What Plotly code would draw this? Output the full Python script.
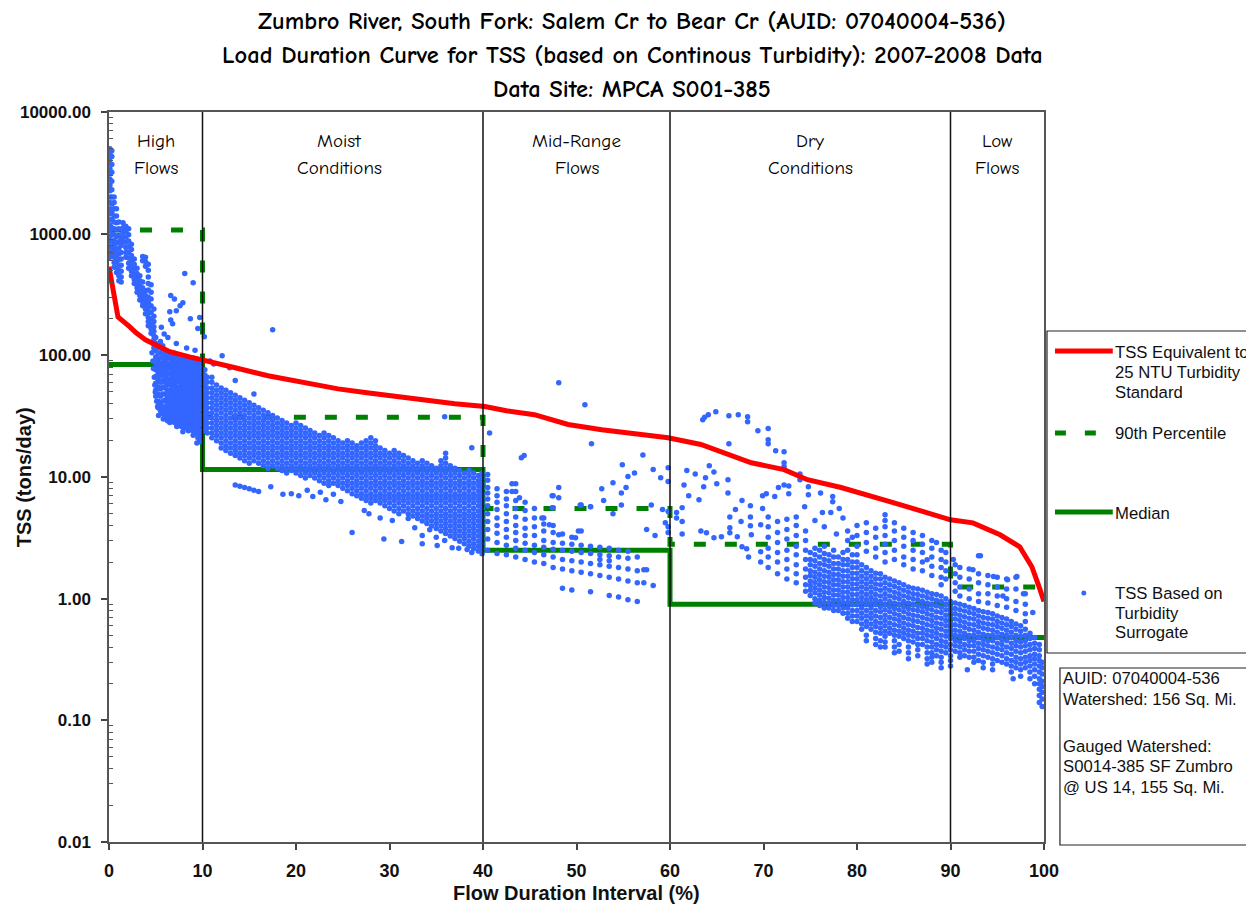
import plotly.graph_objects as go

# ------------------------------------------------------------------ data
# TSS equivalent to the 25 NTU turbidity standard (red curve)
red_flow = [0, 0.43, 0.96, 2.2, 2.9, 3.9, 5.0, 6.5, 8.6, 10, 13.5, 17, 20.7, 24.5, 27.8,
            31.3, 34, 37, 40.2, 42.5, 45.5, 49.1, 52.7, 56.9, 59.8, 63.3, 66, 68.7, 72.2,
            74.7, 78.3, 81, 83.6, 87.1, 90, 92.4, 95.3, 97.4, 98.7, 99.4, 100]
red_tss = [535, 366, 207, 172, 153, 134, 122, 107, 97, 92, 79, 68, 60, 53, 49,
           45.5, 42, 40, 38, 35, 32.5, 27, 24.5, 22.3, 21, 18.5, 15.5, 13.1, 11.5,
           9.5, 8.2, 7.2, 6.25, 5.2, 4.45, 4.2, 3.35, 2.67, 1.83, 1.3, 0.95]

# step curves by flow zone
step_flow = [0, 10, 10, 40, 40, 60, 60, 90, 90, 100]
p90_tss = [1070, 1070, 31, 31, 5.5, 5.5, 2.8, 2.8, 1.25, 1.25]
median_tss = [84, 84, 11.5, 11.5, 2.5, 2.5, 0.9, 0.9, 0.48, 0.48]

# flow zones
zone_bounds = [10, 40, 60, 90]
zone_centers = [5, 24.6, 50, 75, 95]
zone_line1 = ["High", "Moist", "Mid-Range", "Dry", "Low"]
zone_line2 = ["Flows", "Conditions", "Flows", "Conditions", "Flows"]

# y-axis ticks
y_tickvals = [0.01, 0.1, 1, 10, 100, 1000, 10000]
y_ticktext = ["0.01", "0.10", "1.00", "10.00", "100.00", "1000.00", "10000.00"]
y_minor = [m * d for d in [0.01, 0.1, 1, 10, 100, 1000] for m in range(2, 10)]
x_tickvals = [0, 10, 20, 30, 40, 50, 60, 70, 80, 90, 100]

# TSS based on turbidity surrogate: columns (flow %, [tons/day ...])
high_flow_cols = [
    (0.1, [5000, 4600, 4200, 3800, 3400, 3100, 2800, 2500, 2250, 2000, 1800, 1600, 1450, 1300, 1180, 1060, 950, 860, 780, 700, 640]),
    (0.3, [4800, 4300, 3700, 3200, 2700, 2300, 2000, 1750, 1500, 1300, 1120, 980, 860, 760, 680]),
    (0.55, [2000, 1800, 1600, 1400, 1250, 1100, 980, 880, 790, 710, 640, 580, 530]),
    (0.8, [1600, 1400, 1230, 1080, 950, 840, 740, 660, 590, 530, 480]),
    (1.05, [1250, 1100, 970, 860, 760, 680, 610, 550, 500, 450, 410]),
    (1.3, [900, 800, 700, 620, 550, 490, 440, 400]),
    (1.5, [1230, 1120, 1020, 930, 850]),
    (1.8, [1150, 1040, 940, 850, 770, 700, 640]),
    (2.1, [1100, 980, 870, 780, 700, 630, 570, 520]),
    (2.4, [820, 740, 660, 600, 540, 490, 450]),
    (2.7, [620, 560, 510, 460, 420, 390]),
    (3.0, [520, 470, 430, 390, 360, 330]),
    (3.3, [450, 410, 370, 340, 310, 285]),
    (3.6, [650, 600, 400, 360, 330, 300, 275, 255]),
    (3.9, [640, 590, 540, 340, 310, 285, 260, 240, 220]),
    (4.2, [560, 500, 440, 390, 345, 300, 270, 245, 225, 205, 190, 175]),
    (4.5, [380, 330, 290, 255, 225, 200, 180, 165, 152]),
    (4.8, [240, 210, 190, 172, 158, 145, 134, 124, 115]),
    (5.0, [140, 125, 110, 97, 86, 76, 67, 59, 52, 46]),
    (5.25, [118, 104, 92, 81, 72, 63, 55, 48, 42, 37]),
    (5.5, [130, 115, 105, 95, 85, 76, 68, 60, 53, 46, 40, 35]),
    (5.75, [120, 108, 97, 87, 78, 70, 62, 55, 48, 42, 37, 33]),
    (6.0, [110, 100, 91, 82, 74, 67, 60, 54, 48, 43, 38, 34, 31]),
    (6.25, [105, 95, 86, 78, 70, 63, 57, 51, 45, 41, 36, 32, 29]),
    (6.5, [106, 96, 87, 79, 71, 64, 58, 52, 47, 42, 38, 34, 31, 28]),
    (6.75, [101, 91, 83, 75, 68, 61, 55, 49, 44, 40, 36, 32, 29]),
    (7.0, [104, 94, 85, 77, 70, 63, 57, 51, 46, 41, 37, 34, 31, 28]),
    (7.25, [99, 89, 80, 73, 66, 60, 54, 48, 43, 39, 35, 32, 29, 26]),
    (7.5, [100, 91, 82, 74, 67, 61, 55, 50, 45, 41, 37, 33, 30, 27]),
    (7.75, [95, 86, 78, 70, 63, 57, 52, 47, 42, 38, 35, 31, 28, 26]),
    (8.0, [98, 89, 81, 73, 66, 60, 54, 49, 44, 40, 36, 33, 30, 27, 25]),
    (8.25, [93, 84, 76, 69, 62, 56, 51, 46, 42, 38, 34, 31, 28, 26]),
    (8.5, [96, 87, 79, 72, 65, 59, 53, 48, 44, 40, 36, 32, 29, 26, 24]),
    (8.75, [92, 83, 75, 68, 61, 55, 50, 45, 41, 37, 34, 30, 27, 25]),
    (9.0, [95, 86, 78, 71, 64, 58, 52, 47, 43, 39, 35, 32, 29, 26, 24, 22]),
    (9.25, [90, 81, 74, 67, 60, 54, 49, 45, 40, 36, 33, 30, 27, 25, 23]),
    (9.5, [93, 84, 76, 69, 63, 57, 51, 46, 42, 38, 34, 31, 28, 25, 23, 21]),
    (9.75, [88, 80, 72, 65, 59, 53, 48, 44, 40, 36, 32, 29, 27, 24, 22, 20]),
]
high_flow_pts = [(8.1, 470), (9.0, 395), (6.6, 310), (7.0, 290), (7.9, 270), (7.6, 255), (7.2, 232),
                 (6.6, 195), (6.8, 182), (8.7, 200), (9.7, 205), (9.5, 166), (6.5, 228), (5.6, 170),
                 (5.9, 150), (6.3, 140), (7.2, 125), (8.3, 115), (9.2, 110), (5.3, 32), (5.8, 30),
                 (7.9, 23.5), (9.7, 19.5), (9.4, 19.0), (4.6, 105), (4.7, 90), (4.75, 78), (4.85, 66),
                 (4.9, 57), (4.95, 50), (5.1, 42), (5.2, 38)]

moist_cols = [
    (10.25, [24.1, 26.5, 29.2, 32.1, 35.3, 38.8, 42.7, 47, 51.7, 57, 63, 69, 76]),
    (10.5, [23.0, 25.3, 27.8, 30.6, 33.7, 37, 40.7, 44.8, 49.3, 54, 60, 66]),
    (11.0, [21.0, 23.0, 25.3, 27.8, 30.6, 33.7, 37, 40.7, 44.8, 49.3, 54, 60, 66]),
    (11.5, [19.9, 21.9, 24.1, 26.5, 29.2, 32.1, 35.3, 38.8, 42.7, 47, 51.7, 57]),
    (12.0, [17.3, 19.0, 21.0, 23.0, 25.3, 27.8, 30.6, 33.7, 37, 40.7, 44.8, 49.3, 54]),
    (12.5, [16.5, 18.1, 19.9, 21.9, 24.1, 26.5, 29.2, 32.1, 35.3, 38.8, 42.7, 47, 51.7]),
    (13.0, [15.7, 17.3, 19.0, 21.0, 23.0, 25.3, 27.8, 30.6, 33.7, 37, 40.7, 44.8, 49.3]),
    (13.5, [15.0, 16.5, 18.1, 19.9, 21.9, 24.1, 26.5, 29.2, 32.1, 35.3, 38.8, 42.7, 47]),
    (14.0, [14.3, 15.7, 17.3, 19.0, 21.0, 23.0, 25.3, 27.8, 30.6, 33.7, 37, 40.7, 44.8]),
    (14.5, [13.6, 15.0, 16.5, 18.1, 19.9, 21.9, 24.1, 26.5, 29.2, 32.1, 35.3, 38.8, 42.7]),
    (15.0, [13.0, 14.3, 15.7, 17.3, 19.0, 21.0, 23.0, 25.3, 27.8, 30.6, 33.7, 37, 40.7]),
    (15.5, [13.6, 15.0, 16.5, 18.1, 19.9, 21.9, 24.1, 26.5, 29.2, 32.1, 35.3, 38.8]),
    (16.0, [13.0, 14.3, 15.7, 17.3, 19.0, 21.0, 23.0, 25.3, 27.8, 30.6, 33.7, 37]),
    (16.5, [12.4, 13.6, 15.0, 16.5, 18.1, 19.9, 21.9, 24.1, 26.5, 29.2, 32.1, 35.3]),
    (17.0, [11.8, 13.0, 14.3, 15.7, 17.3, 19.0, 21.0, 23.0, 25.3, 27.8, 30.6, 33.7]),
    (17.5, [12.4, 13.6, 15.0, 16.5, 18.1, 19.9, 21.9, 24.1, 26.5, 29.2, 32.1]),
    (18.0, [11.8, 13.0, 14.3, 15.7, 17.3, 19.0, 21.0, 23.0, 25.3, 27.8, 30.6]),
    (18.5, [11.3, 12.4, 13.6, 15.0, 16.5, 18.1, 19.9, 21.9, 24.1, 26.5, 29.2]),
    (19.0, [10.8, 11.8, 13.0, 14.3, 15.7, 17.3, 19.0, 21.0, 23.0, 25.3, 27.8]),
    (19.5, [11.3, 12.4, 13.6, 15.0, 16.5, 18.1, 19.9, 21.9, 24.1, 26.5]),
    (20.0, [10.8, 11.8, 13.0, 14.3, 15.7, 17.3, 19.0, 21.0, 23.0, 25.3, 27.8]),
    (20.5, [10.3, 11.3, 12.4, 13.6, 15.0, 16.5, 18.1, 19.9, 21.9, 24.1, 26.5]),
    (21.0, [9.8, 10.8, 11.8, 13.0, 14.3, 15.7, 17.3, 19.0, 21.0, 23.0, 25.3]),
    (21.5, [10.3, 11.3, 12.4, 13.6, 15.0, 16.5, 18.1, 19.9, 21.9, 24.1]),
    (22.0, [9.8, 10.8, 11.8, 13.0, 14.3, 15.7, 17.3, 19.0, 21.0, 23.0]),
    (22.5, [9.3, 10.3, 11.3, 12.4, 13.6, 15.0, 16.5, 18.1, 19.9, 21.9]),
    (23.0, [8.9, 9.8, 10.8, 11.8, 13.0, 14.3, 15.7, 17.3, 19.0, 21.0, 23.0]),
    (23.5, [8.5, 9.3, 10.3, 11.3, 12.4, 13.6, 15.0, 16.5, 18.1, 19.9, 21.9]),
    (24.0, [8.9, 9.8, 10.8, 11.8, 13.0, 14.3, 15.7, 17.3, 19.0, 21.0]),
    (24.5, [8.5, 9.3, 10.3, 11.3, 12.4, 13.6, 15.0, 16.5, 18.1, 19.9]),
    (25.0, [8.1, 8.9, 9.8, 10.8, 11.8, 13.0, 14.3, 15.7, 17.3, 19.0]),
    (25.5, [7.7, 8.5, 9.3, 10.3, 11.3, 12.4, 13.6, 15.0, 16.5, 18.1, 19.9]),
    (26.0, [7.3, 8.1, 8.9, 9.8, 10.8, 11.8, 13.0, 14.3, 15.7, 17.3, 19.0]),
    (26.5, [7.0, 7.7, 8.5, 9.3, 10.3, 11.3, 12.4, 13.6, 15.0, 16.5, 18.1]),
    (27.0, [6.7, 7.3, 8.1, 8.9, 9.8, 10.8, 11.8, 13.0, 14.3, 15.7, 17.3, 19.0]),
    (27.5, [6.4, 7.0, 7.7, 8.5, 9.3, 10.3, 11.3, 12.4, 13.6, 15.0, 16.5, 18.1, 19.9]),
    (28.0, [6.1, 6.7, 7.3, 8.1, 8.9, 9.8, 10.8, 11.8, 13.0, 14.3, 15.7, 17.3, 19.0, 21.0]),
    (28.5, [6.4, 7.0, 7.7, 8.5, 9.3, 10.3, 11.3, 12.4, 13.6, 15.0, 16.5, 18.1, 19.9]),
    (29.0, [6.1, 6.7, 7.3, 8.1, 8.9, 9.8, 10.8, 11.8, 13.0, 14.3, 15.7, 17.3]),
    (29.5, [5.8, 6.4, 7.0, 7.7, 8.5, 9.3, 10.3, 11.3, 12.4, 13.6, 15.0, 16.5]),
    (30.0, [5.5, 6.1, 6.7, 7.3, 8.1, 8.9, 9.8, 10.8, 11.8, 13.0, 14.3, 15.7]),
    (30.5, [5.26, 5.8, 6.4, 7.0, 7.7, 8.5, 9.3, 10.3, 11.3, 12.4, 13.6, 15.0, 16.5]),
    (31.0, [5.0, 5.5, 6.1, 6.7, 7.3, 8.1, 8.9, 9.8, 10.8, 11.8, 13.0, 14.3, 15.7]),
    (31.5, [5.26, 5.8, 6.4, 7.0, 7.7, 8.5, 9.3, 10.3, 11.3, 12.4, 13.6, 15.0]),
    (32.0, [4.56, 5.0, 5.5, 6.1, 6.7, 7.3, 8.1, 8.9, 9.8, 10.8, 11.8, 13.0, 14.3]),
    (32.5, [4.78, 5.26, 5.8, 6.4, 7.0, 7.7, 8.5, 9.3, 10.3, 11.3, 12.4, 13.6]),
    (33.0, [4.56, 5.0, 5.5, 6.1, 6.7, 7.3, 8.1, 8.9, 9.8, 10.8, 11.8, 13.0]),
    (33.5, [4.35, 4.78, 5.26, 5.8, 6.4, 7.0, 7.7, 8.5, 9.3, 10.3, 11.3, 12.4, 13.6]),
    (34.0, [4.15, 4.56, 5.0, 5.5, 6.1, 6.7, 7.3, 8.1, 8.9, 9.8, 10.8, 11.8, 13.0]),
    (34.5, [3.96, 4.35, 4.78, 5.26, 5.8, 6.4, 7.0, 7.7, 8.5, 9.3, 10.3, 11.3, 12.4]),
    (35.0, [3.77, 4.15, 4.56, 5.0, 5.5, 6.1, 6.7, 7.3, 8.1, 8.9, 9.8, 10.8, 11.8]),
    (35.5, [3.6, 3.96, 4.35, 4.78, 5.26, 5.8, 6.4, 7.0, 7.7, 8.5, 9.3, 10.3, 11.3, 12.4, 13.6]),
    (36.0, [3.43, 3.77, 4.15, 4.56, 5.0, 5.5, 6.1, 6.7, 7.3, 8.1, 8.9, 9.8, 10.8, 11.8, 13.0, 14.3, 15.7]),
    (36.5, [3.27, 3.6, 3.96, 4.35, 4.78, 5.26, 5.8, 6.4, 7.0, 7.7, 8.5, 9.3, 10.3, 11.3, 12.4]),
    (37.0, [3.12, 3.43, 3.77, 4.15, 4.56, 5.0, 5.5, 6.1, 6.7, 7.3, 8.1, 8.9, 9.8, 10.8, 11.8]),
    (37.5, [2.97, 3.27, 3.6, 3.96, 4.35, 4.78, 5.26, 5.8, 6.4, 7.0, 7.7, 8.5, 9.3, 10.3, 11.3]),
    (38.0, [2.83, 3.12, 3.43, 3.77, 4.15, 4.56, 5.0, 5.5, 6.1, 6.7, 7.3, 8.1, 8.9, 9.8, 10.8]),
    (38.5, [2.7, 2.97, 3.27, 3.6, 3.96, 4.35, 4.78, 5.26, 5.8, 6.4, 7.0, 7.7, 8.5, 9.3, 10.3, 11.3]),
    (39.0, [2.58, 2.83, 3.12, 3.43, 3.77, 4.15, 4.56, 5.0, 5.5, 6.1, 6.7, 7.3, 8.1, 8.9, 9.8, 10.8]),
    (39.5, [2.46, 2.7, 2.97, 3.27, 3.6, 3.96, 4.35, 4.78, 5.26, 5.8, 6.4, 7.0, 7.7, 8.5, 9.3, 10.3]),
    (39.9, [2.34, 2.58, 2.83, 3.12, 3.43, 3.77, 4.15, 4.56, 5.0, 5.5, 6.1, 6.7, 7.3, 8.1, 8.9, 9.8, 10.8]),
]
moist_pts = [(10.2, 142), (12.1, 99), (12.9, 79), (17.5, 162), (35.9, 31.3), (38.8, 17.4), (11.2, 85),
             (10.8, 90), (13.5, 62), (15.5, 48), (13.5, 8.6), (14.0, 8.4), (14.5, 8.2), (15.0, 8.0),
             (15.5, 7.8), (16.0, 7.6), (17.3, 8.3), (18.6, 7.2), (19.5, 7.3), (20.3, 7.0), (21.2, 7.8),
             (21.8, 6.9), (22.6, 7.5), (23.2, 6.5), (24.0, 7.2), (24.8, 6.3), (26.0, 3.5), (27.3, 5.3),
             (27.8, 5.0), (29.4, 3.1), (29.0, 4.6), (30.3, 4.4), (31.3, 2.95), (32.7, 3.83), (33.5, 2.83),
             (34.3, 3.69), (35.1, 2.73), (35.9, 3.0), (36.7, 2.62), (37.4, 2.6), (38.3, 2.53), (38.8, 2.4),
             (33.5, 3.3), (35.0, 3.2)]

midrange_cols = [
    (40.5, [10.5, 9.4, 8.2, 7.4, 6.6, 5.8, 5.0, 4.3, 3.7, 3.1, 2.5]),
    (41.5, [8.0, 7.0, 6.2, 5.4, 4.6, 4.0, 3.45, 2.9, 2.35]),
    (42.5, [7.6, 6.6, 5.8, 5.0, 4.3, 3.7, 3.2, 2.75, 2.3]),
    (43.5, [8.8, 7.6, 6.4, 5.5, 4.7, 4.0, 3.5, 3.0, 2.6, 2.2]),
    (44.5, [6.2, 5.3, 4.5, 3.8, 3.3, 2.85, 2.5, 2.1]),
    (45.5, [5.5, 4.6, 3.9, 3.3, 2.75, 2.4, 2.0]),
    (46.5, [4.6, 4.1, 3.6, 3.0, 2.65, 2.3, 1.95]),
    (47.5, [7.0, 5.6, 4.0, 3.5, 2.9, 2.55, 2.2, 1.8]),
    (48.5, [3.4, 2.85, 2.5, 2.1, 1.75, 1.22]),
    (49.5, [3.2, 2.8, 2.45, 2.05, 1.7, 1.18]),
    (50.5, [5.9, 3.6, 2.75, 2.4, 2.0, 1.65]),
    (51.5, [5.7, 2.7, 2.35, 1.95, 1.6, 1.14]),
    (52.5, [2.65, 2.3, 2.1, 1.9, 1.55]),
    (53.5, [2.6, 2.25, 2.05, 1.85, 1.5, 1.06]),
    (54.5, [2.5, 2.2, 1.8, 1.45, 1.03]),
    (55.5, [2.45, 2.15, 1.75, 1.4, 0.98]),
    (56.5, [2.2, 1.7, 1.35, 0.95]),
]
midrange_pts = [(48.1, 59.5), (50.9, 39.3), (51.6, 18.8), (40.7, 23), (44.1, 14.4), (44.4, 15.0),
                (57.1, 15.2), (54.9, 12.6), (56.2, 10.8), (55.5, 10.1), (58.2, 11.5), (59.0, 9.85),
                (53.9, 8.95), (52.7, 8.0), (52.9, 6.4), (48.1, 8.2), (48.1, 6.75), (47.4, 7.0),
                (54.8, 5.9), (53.9, 5.0), (58.0, 5.9), (55.3, 8.2), (54.8, 7.4), (51.5, 5.7), (50.4, 5.9),
                (47.4, 5.6), (46.3, 4.6), (50.2, 3.6), (49.9, 3.17), (48.1, 3.36), (47.1, 4.05),
                (43.9, 6.75), (43.1, 8.8), (43.1, 7.6), (57.2, 1.73), (58.2, 1.28), (57.2, 1.35),
                (59.8, 5.2), (59.8, 3.9), (59.8, 3.5), (57.5, 3.7), (58.4, 3.3), (57.5, 1.73)]

dry_cols = [
    (70.5, [4.7, 3.9, 3.2, 2.6, 2.2, 1.8]),
    (71.5, [4.3, 3.5, 2.9, 2.4, 2.0, 1.6]),
    (72.5, [4.5, 3.7, 3.1, 2.5, 2.1, 1.75, 1.45]),
    (73.5, [4.0, 3.3, 2.7, 2.3, 1.9, 1.6, 1.35]),
    (74.5, [3.6, 3.0, 2.5, 2.1, 1.75, 1.5, 1.3, 1.15]),
    (75.0, [2.4, 2.1, 1.9, 1.7, 1.55, 1.4, 1.28, 1.17, 1.06]),
    (75.5, [2.6, 2.3, 2.05, 1.85, 1.65, 1.5, 1.36, 1.23, 1.12, 1.0, 0.92]),
    (76.0, [2.5, 2.2, 1.95, 1.75, 1.58, 1.43, 1.3, 1.18, 1.07, 0.97, 0.88]),
    (76.5, [2.7, 2.35, 2.1, 1.9, 1.7, 1.53, 1.38, 1.25, 1.13, 1.02, 0.93, 0.84]),
    (77.0, [2.3, 2.05, 1.85, 1.65, 1.5, 1.36, 1.23, 1.12, 1.01, 0.92, 0.84]),
    (77.5, [2.5, 2.2, 1.95, 1.75, 1.58, 1.43, 1.3, 1.18, 1.07, 0.97, 0.88, 0.8]),
    (78.0, [2.2, 1.95, 1.75, 1.58, 1.43, 1.3, 1.18, 1.07, 0.97, 0.88, 0.8]),
    (78.5, [2.4, 2.1, 1.9, 1.7, 1.53, 1.38, 1.25, 1.13, 1.02, 0.93, 0.84, 0.76]),
    (79.0, [3.6, 3.0, 2.5, 2.1, 1.9, 1.7, 1.53, 1.38, 1.25, 1.13, 1.02, 0.93, 0.84, 0.76, 0.69]),
    (79.5, [2.3, 2.0, 1.8, 1.62, 1.46, 1.32, 1.2, 1.08, 0.98, 0.89, 0.8, 0.72, 0.65]),
    (80.0, [4.0, 3.3, 2.7, 2.3, 2.0, 1.8, 1.62, 1.46, 1.32, 1.2, 1.08, 0.98, 0.89, 0.8, 0.72, 0.65]),
    (80.5, [1.9, 1.7, 1.53, 1.38, 1.25, 1.13, 1.02, 0.93, 0.84, 0.76, 0.69, 0.62, 0.56]),
    (81.0, [4.2, 3.5, 2.9, 2.45, 1.8, 1.62, 1.46, 1.32, 1.2, 1.08, 0.98, 0.89, 0.8, 0.72, 0.65, 0.59, 0.5, 0.45]),
    (81.5, [1.7, 1.53, 1.38, 1.25, 1.13, 1.02, 0.93, 0.84, 0.76, 0.69, 0.62, 0.56]),
    (82.0, [3.8, 3.2, 2.6, 2.2, 1.62, 1.46, 1.32, 1.2, 1.08, 0.98, 0.89, 0.8, 0.72, 0.65, 0.59, 0.53, 0.47, 0.42]),
    (82.5, [1.6, 1.45, 1.3, 1.17, 1.05, 0.95, 0.86, 0.78, 0.7, 0.63, 0.57, 0.52, 0.45, 0.4]),
    (83.0, [4.9, 4.4, 3.9, 3.3, 2.8, 2.4, 2.0, 1.5, 1.35, 1.22, 1.1, 1.0, 0.9, 0.81, 0.73, 0.66, 0.6, 0.54, 0.49, 0.44, 0.4]),
    (83.5, [1.45, 1.3, 1.17, 1.05, 0.95, 0.86, 0.78, 0.7, 0.63, 0.57, 0.52]),
    (84.0, [4.2, 3.6, 3.0, 2.5, 2.1, 1.4, 1.26, 1.13, 1.02, 0.92, 0.83, 0.75, 0.68, 0.61, 0.55, 0.5, 0.45, 0.4, 0.36]),
    (84.5, [1.35, 1.22, 1.1, 1.0, 0.9, 0.81, 0.73, 0.66, 0.6, 0.54, 0.49, 0.42, 0.37]),
    (85.0, [3.8, 3.2, 2.7, 2.2, 1.9, 1.3, 1.17, 1.05, 0.95, 0.86, 0.78, 0.7, 0.63, 0.57, 0.52, 0.47]),
    (85.5, [1.25, 1.13, 1.02, 0.92, 0.83, 0.75, 0.68, 0.61, 0.55, 0.5, 0.45, 0.4, 0.36, 0.32]),
    (86.0, [3.5, 3.0, 2.5, 2.1, 1.75, 1.22, 1.1, 1.0, 0.9, 0.81, 0.73, 0.66, 0.6, 0.54, 0.49, 0.44]),
    (86.5, [1.2, 1.08, 0.98, 0.88, 0.8, 0.72, 0.65, 0.58, 0.52, 0.47, 0.42, 0.38, 0.34]),
    (87.0, [3.3, 2.8, 2.4, 2.0, 1.7, 1.17, 1.05, 0.95, 0.86, 0.78, 0.7, 0.63, 0.57, 0.52, 0.47, 0.42]),
    (87.5, [2.09, 1.13, 1.02, 0.92, 0.83, 0.75, 0.68, 0.61, 0.55, 0.5, 0.45, 0.4, 0.36, 0.32, 0.29]),
    (88.0, [3.0, 2.6, 2.2, 1.85, 1.55, 1.1, 1.0, 0.9, 0.81, 0.73, 0.66, 0.6, 0.54, 0.49, 0.44, 0.4, 0.36, 0.33, 0.3]),
    (88.5, [2.9, 1.08, 0.97, 0.87, 0.78, 0.7, 0.63, 0.57, 0.52, 0.47, 0.42, 0.38, 0.34]),
    (89.0, [2.5, 2.1, 1.8, 1.5, 1.3, 1.05, 0.95, 0.85, 0.77, 0.69, 0.62, 0.56, 0.5, 0.45, 0.41, 0.37, 0.33, 0.3, 0.27]),
    (89.5, [2.4, 2.0, 1.7, 1.45, 1.0, 0.9, 0.81, 0.73, 0.66, 0.6, 0.54, 0.49, 0.44, 0.4, 0.36]),
]
dry_pts = [(59.8, 11.9), (59.8, 9.2), (61.8, 11.3), (62.7, 10.6), (64.2, 12.4), (64.7, 11.0), (63.8, 9.85),
           (63.6, 8.3), (61.5, 8.6), (63.1, 6.5), (66.2, 9.5), (66.2, 7.4), (67.7, 6.4), (68.6, 5.8),
           (69.9, 7.0), (70.3, 7.3), (69.9, 5.5), (71.2, 6.9), (71.6, 8.2), (72.2, 8.6), (72.7, 8.45),
           (72.7, 7.3), (73.5, 4.7), (74.4, 5.7), (61.3, 5.6), (61.3, 4.3), (60.7, 5.1), (60.7, 4.6),
           (61.3, 3.4), (63.3, 3.6), (63.9, 3.48), (64.7, 3.17), (65.5, 3.23), (66.4, 4.7), (66.4, 3.83),
           (66.4, 3.48), (67.2, 3.23), (67.6, 4.3), (67.7, 2.67), (68.2, 2.57), (68.6, 4.7), (68.6, 3.98),
           (68.7, 3.36), (68.4, 2.2), (69.7, 4.05), (69.7, 2.43), (69.7, 2.0), (63.5, 29.6), (64.1, 32.5),
           (64.9, 34.4), (66.3, 31.8), (67.3, 32.5), (68.3, 31.3), (68.3, 28.5), (69.4, 24), (70.5, 25),
           (70.5, 20.2), (70.5, 18.8), (71.3, 16.4), (72.2, 16.1), (72.2, 13.1), (72.2, 12.2), (66.3, 18.8),
           (73.9, 10.6), (73.9, 9.5), (74.8, 8.3), (74.8, 7.15), (76.1, 7.4), (77.4, 6.9), (77.4, 6.25),
           (78.1, 5.5), (77.2, 5.1), (76.3, 5.1), (63.7, 31), (65.0, 8.8), (67.0, 5.4), (62.0, 7.0),
           (59.2, 5.4), (59.5, 4.2), (75.5, 4.4), (76.5, 3.9), (77.8, 3.4), (78.5, 4.6), (79.5, 3.2)]

low_cols = [
    (90.0, [0.95, 0.86, 0.78, 0.7, 0.63, 0.57, 0.52, 0.47, 0.42, 0.38, 0.34, 0.31, 0.28]),
    (90.5, [1.9, 1.6, 1.35, 1.15, 0.92, 0.83, 0.75, 0.68, 0.61, 0.55, 0.5, 0.45, 0.41, 0.37]),
    (91.0, [1.8, 1.5, 1.25, 1.05, 0.9, 0.81, 0.73, 0.66, 0.6, 0.54, 0.49, 0.44, 0.4, 0.36, 0.33]),
    (91.5, [0.88, 0.79, 0.71, 0.64, 0.58, 0.52, 0.47, 0.42, 0.38, 0.34]),
    (92.0, [1.75, 1.45, 1.2, 1.0, 0.85, 0.77, 0.69, 0.62, 0.56, 0.5, 0.45, 0.41, 0.37, 0.33]),
    (92.5, [0.83, 0.75, 0.68, 0.61, 0.55, 0.5, 0.45, 0.41, 0.37, 0.33, 0.3]),
    (93.0, [2.25, 1.6, 1.35, 1.1, 0.95, 0.8, 0.72, 0.65, 0.59, 0.53, 0.48, 0.43, 0.39, 0.35, 0.31]),
    (93.5, [0.78, 0.7, 0.63, 0.57, 0.51, 0.46, 0.42, 0.38, 0.34, 0.3, 0.27]),
    (94.0, [1.55, 1.3, 1.1, 0.92, 0.77, 0.69, 0.62, 0.56, 0.5, 0.45, 0.41, 0.37, 0.33]),
    (94.5, [0.75, 0.68, 0.61, 0.55, 0.5, 0.45, 0.4, 0.36, 0.32, 0.29, 0.26]),
    (95.0, [1.5, 1.25, 1.05, 0.88, 0.72, 0.65, 0.59, 0.53, 0.48, 0.43, 0.39, 0.35, 0.31]),
    (95.5, [0.7, 0.63, 0.57, 0.51, 0.46, 0.42, 0.38, 0.34, 0.3]),
    (96.0, [1.45, 1.2, 1.0, 0.85, 0.68, 0.61, 0.55, 0.5, 0.45, 0.4, 0.36, 0.32, 0.29]),
    (96.5, [0.65, 0.59, 0.53, 0.48, 0.43, 0.39, 0.35, 0.31, 0.28, 0.25]),
    (97.0, [1.5, 1.2, 0.95, 0.8, 0.62, 0.56, 0.5, 0.45, 0.41, 0.37, 0.33, 0.3, 0.27]),
    (97.5, [0.6, 0.54, 0.49, 0.44, 0.4, 0.36, 0.32, 0.29, 0.26, 0.23]),
    (98.0, [1.1, 0.9, 0.75, 0.65, 0.56, 0.5, 0.45, 0.41, 0.37, 0.33, 0.3, 0.27]),
    (98.5, [0.52, 0.47, 0.42, 0.38, 0.34, 0.31, 0.28, 0.25, 0.22]),
    (99.0, [0.48, 0.43, 0.39, 0.35, 0.32, 0.29, 0.26, 0.23, 0.2]),
    (99.5, [0.42, 0.38, 0.34, 0.31, 0.28, 0.25, 0.22, 0.2, 0.18, 0.16, 0.14]),
    (99.8, [0.3, 0.27, 0.24, 0.21, 0.19, 0.17, 0.15, 0.13]),
]
low_pts = [(93.2, 2.25), (98.8, 0.77), (91.8, 0.26), (96.7, 0.22), (97.1, 1.52), (96.1, 1.43),
           (92.4, 1.73), (94.6, 1.52), (90.3, 2.1), (95.6, 1.05), (97.8, 1.1)]

# legend / info box text
legend_red_lines = ["TSS Equivalent to", "25 NTU Turbidity", "Standard"]
legend_blue_lines = ["TSS Based on", "Turbidity", "Surrogate"]
info_lines = ["AUID: 07040004-536", "Watershed: 156 Sq. Mi.", "Gauged Watershed:",
              "S0014-385 SF Zumbro", "@ US 14, 155 Sq. Mi."]
title_lines = ["Zumbro River, South Fork: Salem Cr to Bear Cr (AUID: 07040004-536)",
               "Load Duration Curve for TSS (based on Continous Turbidity): 2007-2008 Data",
               "Data Site: MPCA S001-385"]

# ------------------------------------------------------------------ build
def flatten(cols, pts):
    xs, ys = [], []
    for x, vals in cols:
        xs += [x] * len(vals)
        ys += list(vals)
    for x, v in pts:
        xs.append(x)
        ys.append(v)
    return xs, ys

sx, sy = [], []
for cols, pts in [(high_flow_cols, high_flow_pts), (moist_cols, moist_pts),
                  (midrange_cols, midrange_pts), (dry_cols, dry_pts), (low_cols, low_pts)]:
    a, b = flatten(cols, pts)
    sx += a
    sy += b

# The page body has an 8 px margin, so the figure starts at (8, 8);
# pixel positions below are given in the 1254x907 reference frame.
OFF = 8
W, H = 1254 - OFF, 907 - OFF
PL, PR, PT, PB = 106, 1044, 112, 842
def fx(px):
    return (px - PL) / (PR - PL)
def fy(py):
    return (PB - py) / (PB - PT)

BLUE = "#3366FF"
GREEN = "#008000"
RED = "#FF0000"
COMIC = "Comic Sans MS, Comic Neue, DejaVu Sans, sans-serif"
ARIAL = "Liberation Sans, Arial, Helvetica, sans-serif"

fig = go.Figure()
fig.add_trace(go.Scatter(x=step_flow, y=p90_tss, mode="lines", name="90th Percentile",
                         line=dict(color=GREEN, width=5, dash="12px,19px"), showlegend=False))
fig.add_trace(go.Scatter(x=step_flow, y=median_tss, mode="lines", name="Median",
                         line=dict(color=GREEN, width=5), showlegend=False))
fig.add_trace(go.Scatter(x=sx, y=sy, mode="markers", name="TSS Based on Turbidity Surrogate",
                         marker=dict(color=BLUE, size=5.5, line=dict(width=0)), showlegend=False))
fig.add_trace(go.Scatter(x=red_flow, y=red_tss, mode="lines",
                         name="TSS Equivalent to 25 NTU Turbidity Standard",
                         line=dict(color=RED, width=5), showlegend=False))

shapes = []
for b in zone_bounds:
    shapes.append(dict(type="line", xref="x", yref="paper", x0=b, x1=b, y0=0, y1=1,
                       line=dict(color="#111111", width=1.5), layer="above"))

# manual legend
shapes.append(dict(type="rect", xref="paper", yref="paper", x0=fx(1047), x1=fx(1253),
                   y0=fy(653), y1=fy(331), line=dict(color="#222222", width=1.2)))
shapes.append(dict(type="line", xref="paper", yref="paper", x0=fx(1055), x1=fx(1113),
                   y0=fy(351), y1=fy(351), line=dict(color=RED, width=5)))
for a0, a1 in [(1055, 1066), (1085, 1096)]:
    shapes.append(dict(type="line", xref="paper", yref="paper", x0=fx(a0), x1=fx(a1),
                       y0=fy(433), y1=fy(433), line=dict(color=GREEN, width=5)))
shapes.append(dict(type="line", xref="paper", yref="paper", x0=fx(1055), x1=fx(1113),
                   y0=fy(512), y1=fy(512), line=dict(color=GREEN, width=5)))
shapes.append(dict(type="circle", xref="paper", yref="paper", x0=fx(1081.5), x1=fx(1086.5),
                   y0=fy(595.5), y1=fy(590.5), fillcolor=BLUE, line=dict(width=0)))
# info box
shapes.append(dict(type="rect", xref="paper", yref="paper", x0=fx(1060), x1=fx(1253),
                   y0=fy(845), y1=fy(668), line=dict(color="#222222", width=1.2)))

ann = []
title_y = [21, 55, 89]
for t, yy in zip(title_lines, title_y):
    ann.append(dict(text=t, xref="paper", yref="paper", x=fx(631), y=fy(yy), showarrow=False,
                    xanchor="center", yanchor="middle",
                    font=dict(family=COMIC, size=24.5, color="black", weight="bold")))
for c, l1, l2 in zip(zone_centers, zone_line1, zone_line2):
    ann.append(dict(text=l1, xref="x", yref="paper", x=c, y=fy(141), showarrow=False,
                    xanchor="center", yanchor="middle", font=dict(family=COMIC, size=19, color="black")))
    ann.append(dict(text=l2, xref="x", yref="paper", x=c, y=fy(168), showarrow=False,
                    xanchor="center", yanchor="middle", font=dict(family=COMIC, size=19, color="black")))
LEG_FONT = dict(family=ARIAL, size=16.7, color="#111")
for t, yy in zip(legend_red_lines, [352, 372, 392]):
    ann.append(dict(text=t, xref="paper", yref="paper", x=fx(1113.5), y=fy(yy), showarrow=False,
                    xanchor="left", yanchor="middle", font=LEG_FONT))
ann.append(dict(text="90th Percentile", xref="paper", yref="paper", x=fx(1113.5), y=fy(433),
                showarrow=False, xanchor="left", yanchor="middle", font=LEG_FONT))
ann.append(dict(text="Median", xref="paper", yref="paper", x=fx(1113), y=fy(513),
                showarrow=False, xanchor="left", yanchor="middle", font=LEG_FONT))
for t, yy in zip(legend_blue_lines, [593, 613, 632]):
    ann.append(dict(text=t, xref="paper", yref="paper", x=fx(1113.5), y=fy(yy), showarrow=False,
                    xanchor="left", yanchor="middle", font=LEG_FONT))
for t, yy in zip(info_lines, [678, 699, 746, 766, 787]):
    ann.append(dict(text=t, xref="paper", yref="paper", x=fx(1061), y=fy(yy), showarrow=False,
                    xanchor="left", yanchor="middle", font=LEG_FONT))
# axis titles
ann.append(dict(text="TSS (tons/day)", xref="paper", yref="paper", x=fx(21), y=fy(477),
                showarrow=False, textangle=-90, xanchor="center", yanchor="middle",
                font=dict(family=ARIAL, size=20, color="#111", weight="bold")))
ann.append(dict(text="Flow Duration Interval (%)", xref="paper", yref="paper", x=fx(575), y=fy(893),
                showarrow=False, xanchor="center", yanchor="middle",
                font=dict(family=ARIAL, size=20, color="#111", weight="bold")))

fig.update_layout(
    width=W, height=H, autosize=False,
    margin=dict(l=PL - OFF, r=1254 - PR, t=PT - OFF, b=H - (PB - OFF), pad=0),
    paper_bgcolor="white", plot_bgcolor="white",
    shapes=shapes, annotations=ann, showlegend=False,
    xaxis=dict(range=[0, 100], tickvals=x_tickvals, ticks="outside", ticklen=6, tickwidth=1.5,
               tickcolor="#444", showline=True, linecolor="#555", linewidth=1.5, mirror=True,
               showgrid=False, zeroline=False, ticklabelstandoff=6,
               tickfont=dict(family=ARIAL, size=18, color="#111", weight="bold")),
    yaxis=dict(type="log", range=[-2, 4], tickvals=y_tickvals, ticktext=y_ticktext,
               ticks="outside", ticklen=6, tickwidth=1.5, tickcolor="#444",
               showline=True, linecolor="#555", linewidth=1.5, mirror=True,
               showgrid=False, zeroline=False, ticklabelstandoff=7,
               minor=dict(tickvals=y_minor, ticks="inside", ticklen=4, tickcolor="#555",
                          tickwidth=1, showgrid=False),
               tickfont=dict(family=ARIAL, size=17, color="#111", weight="bold")),
)

fig.write_html("out.html")
